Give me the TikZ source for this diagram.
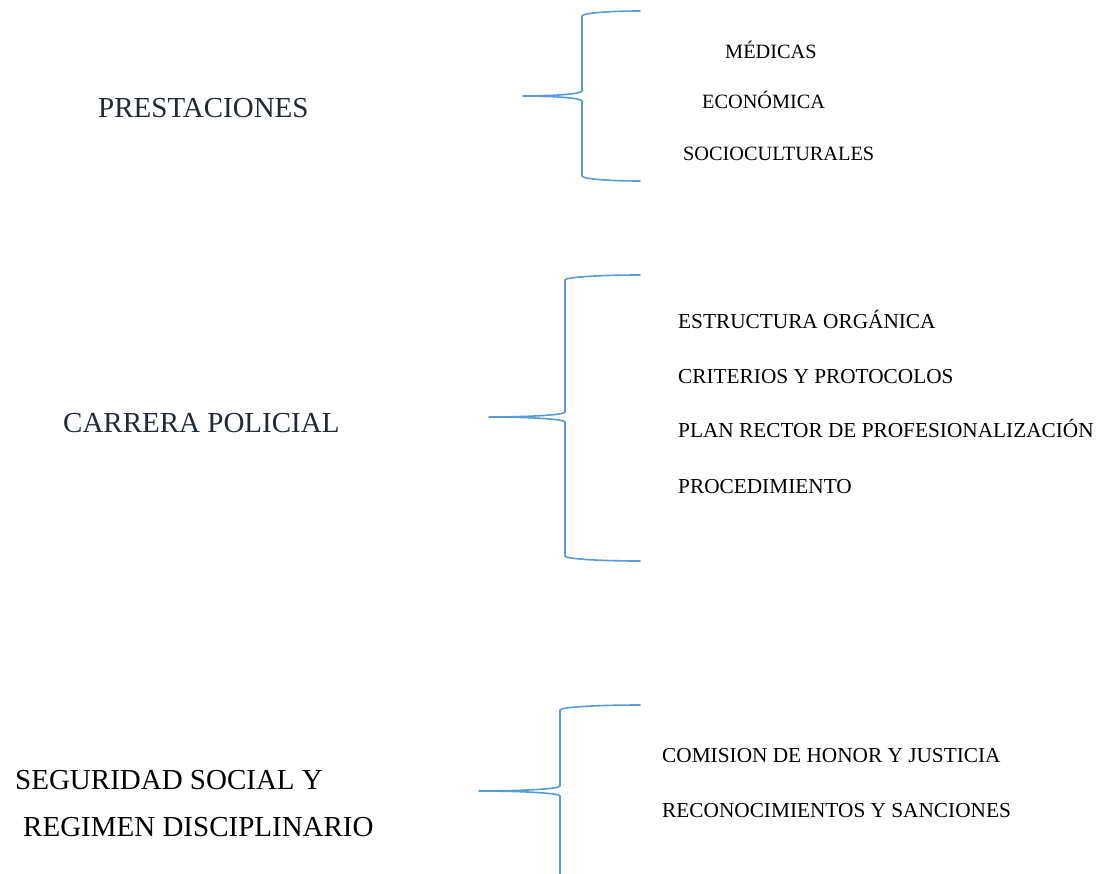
\documentclass[tikz,border=0pt]{standalone}
\usepackage{fontspec}
\setmainfont{Liberation Serif}
\definecolor{bracecol}{HTML}{5B9BD5}
\definecolor{slatetext}{HTML}{222A35}
\newcommand\wordbrace[7]{%
  \draw[bracebox]
    (#1,#4) .. controls ({#1-0.552*(#1-#2)},#4) and (#2,{#4+#7-0.552*#7}) .. (#2,{#4+#7})
    -- (#2,{#5-#7}) .. controls (#2,{#5-#7+0.552*#7}) and ({#3+0.552*(#2-#3)},#5) .. (#3,#5)
    .. controls ({#3+0.552*(#2-#3)},#5) and (#2,{#5+#7-0.552*#7}) .. (#2,{#5+#7})
    -- (#2,{#6-#7}) .. controls (#2,{#6-#7+0.552*#7}) and ({#1-0.552*(#1-#2)},#6) .. (#1,#6);}
\begin{document}
\begin{tikzpicture}[x=1pt,y=-1pt,
  bracebox/.style={draw=bracecol,line width=1.6pt,line cap=round,line join=round},
  bigtext/.style={anchor=base west,inner sep=0pt,font=\fontsize{29}{34}\selectfont},
  smalltext/.style={anchor=base west,inner sep=0pt,font=\fontsize{21.3}{25}\selectfont},
  smalltexta/.style={anchor=base west,inner sep=0pt,font=\fontsize{20.3}{24}\selectfont}]
\useasboundingbox (0,0) rectangle (1100,873);
\fill[white] (0,0) rectangle (1100,873);
% left labels
\node[bigtext,text=slatetext] (prest) at (98,117) {PRESTACIONES};
\node[bigtext,text=slatetext] (carrera) at (63,432) {CARRERA POLICIAL};
\node[bigtext] (seg1) at (15,789) {SEGURIDAD SOCIAL Y};
\node[bigtext] (seg2) at (23,836) {REGIMEN DISCIPLINARIO};
% braces
\wordbrace{640}{582}{523}{11}{96}{181}{5}
\wordbrace{640}{565}{489}{275}{417}{561}{5}
\draw[bracebox]
  (640,705) .. controls ({640-0.552*80},705) and (560,{705+5-0.552*5}) .. (560,710)
  -- (560,786) .. controls (560,{786+0.552*5}) and ({479+0.552*81},791) .. (479,791)
  .. controls ({479+0.552*81},791) and (560,{796-0.552*5}) .. (560,796)
  -- (560,880);
% brace 1 items
\node[smalltexta] (med) at (725,58) {MÉDICAS};
\node[smalltexta] (eco) at (702,108) {ECONÓMICA};
\node[smalltexta] (soc) at (683,160) {SOCIOCULTURALES};
% brace 2 items
\node[smalltext] (estr) at (678,328) {ESTRUCTURA ORGÁNICA};
\node[smalltext] (crit) at (678,383) {CRITERIOS Y PROTOCOLOS};
\node[smalltext] (plan) at (678,437) {PLAN RECTOR DE PROFESIONALIZACIÓN};
\node[smalltext] (proc) at (678,493) {PROCEDIMIENTO};
% brace 3 items
\node[smalltext] (com) at (662,762) {COMISION DE HONOR Y JUSTICIA};
\node[smalltext] (rec) at (662,817) {RECONOCIMIENTOS Y SANCIONES};
\end{tikzpicture}
\end{document}
